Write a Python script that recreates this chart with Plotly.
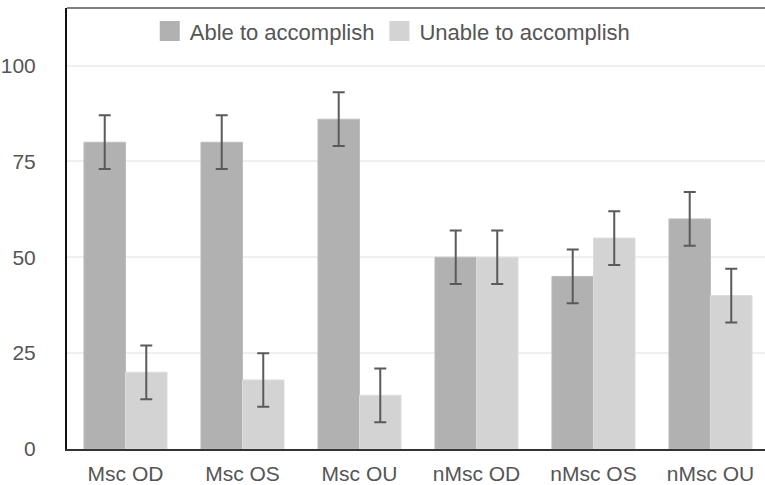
import plotly.graph_objects as go

categories = ["Msc OD", "Msc OS", "Msc OU", "nMsc OD", "nMsc OS", "nMsc OU"]
able = [80, 80, 86, 50, 45, 60]
unable = [20, 18, 14, 50, 55, 40]
able_err = [7, 7, 7, 7, 7, 7]
unable_err = [7, 7, 7, 7, 7, 7]
y_ticks = [0, 25, 50, 75, 100]
series_names = ["Able to accomplish", "Unable to accomplish"]

FONT = "Liberation Sans, Arial, sans-serif"
TXT = "#555555"
ERR = "#5a5a5a"
C_ABLE = "#b1b1b1"
C_UNABLE = "#d3d3d3"

fig = go.Figure()
fig.add_trace(go.Bar(
    x=categories, y=able, name=series_names[0], showlegend=False,
    marker=dict(color=C_ABLE, line=dict(color="#bdbdbd", width=1)),
    error_y=dict(type="data", array=able_err, color=ERR, thickness=2, width=6),
))
fig.add_trace(go.Bar(
    x=categories, y=unable, name=series_names[1], showlegend=False,
    marker=dict(color=C_UNABLE, line=dict(color="#dcdcdc", width=1)),
    error_y=dict(type="data", array=unable_err, color=ERR, thickness=2, width=6),
))
# legend swatches (larger squares like the reference)
for nm, col in zip(series_names, [C_ABLE, C_UNABLE]):
    fig.add_trace(go.Scatter(
        x=[None], y=[None], mode="markers", name=nm, showlegend=True,
        marker=dict(symbol="square", size=16, color=col, line=dict(color=col, width=4)),
    ))

fig.update_layout(
    width=765, height=485,
    margin=dict(l=67, r=0, t=8, b=36, autoexpand=False),
    paper_bgcolor="white", plot_bgcolor="white",
    barmode="group", bargap=0.29, bargroupgap=0,
    font=dict(family=FONT, size=21, color=TXT),
    showlegend=True,
    legend=dict(orientation="h", x=0.466, xanchor="center", y=0.995, yanchor="top",
                font=dict(size=22, color=TXT), bgcolor="rgba(0,0,0,0)",
                itemwidth=30, tracegroupgap=0),
    xaxis=dict(range=[-0.5, 5.466], showgrid=False, showline=True, linecolor="#333333",
               linewidth=2, ticks="", ticklabelstandoff=5, automargin=False,
               tickfont=dict(size=21, color=TXT)),
    yaxis=dict(range=[0, 115], tickvals=y_ticks, showgrid=True, gridcolor="#efefef",
               gridwidth=2, zeroline=False, showline=True, linecolor="#111111",
               linewidth=2, ticks="", ticklabelstandoff=25, automargin=False,
               tickfont=dict(size=21, color=TXT)),
    shapes=[dict(type="line", xref="paper", yref="paper", x0=0, x1=1, y0=1, y1=1,
                 line=dict(color="#808080", width=2))],
)

fig.write_html(
    "out.html",
    config={"displayModeBar": False},
    post_script="document.body.style.margin='0';document.body.style.overflow='hidden';",
)
